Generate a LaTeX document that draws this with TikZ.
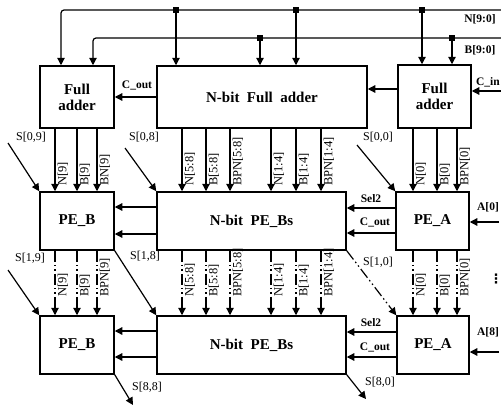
\documentclass[tikz,border=0pt]{standalone}
\usepackage{fontspec}
\setmainfont{Liberation Serif}
\newfontfamily\dvfont{DejaVu Sans}
\usetikzlibrary{arrows.meta}
\begin{document}
\begin{tikzpicture}[x=1pt,y=-1pt,
  box/.style={draw, line width=1.5pt, inner sep=0pt, align=center,
    font=\fontsize{15}{16}\selectfont\bfseries},
  wire/.style={line width=1.2pt},
  arr/.style={wire, -{Triangle[length=7.5pt,width=7.5pt]}},
  lbl/.style={font=\fontsize{12}{13}\selectfont, inner sep=1pt},
  blbl/.style={font=\fontsize{11.5}{12}\selectfont\bfseries, inner sep=1pt},
  rl/.style={font=\fontsize{12.5}{13}\selectfont, inner sep=1pt, rotate=90, anchor=north west},
  dd/.style={dash pattern=on 11pt off 3pt on 1.5pt off 3pt on 1.5pt off 3pt},
  jdot/.style={fill, rectangle, minimum size=5.5pt, inner sep=0pt}
]
\useasboundingbox (0,0) rectangle (501,407);

% boxes
\node[box, minimum width=74pt, minimum height=62pt] (lfa) at (77,97) {Full\\adder};
\node[box, minimum width=210pt, minimum height=62pt] (nfa) at (262,97) {N-bit\ \ Full\ \ adder};
\node[box, minimum width=73pt, minimum height=63pt] (rfa) at (434.5,96.5) {Full\\adder};

\node[box, minimum width=74pt, minimum height=58pt] (peb1) at (77,221) {PE\_B};
\node[box, minimum width=189pt, minimum height=58pt] (pebs1) at (251.5,221) {N-bit\ \ PE\_Bs};
\node[box, minimum width=73pt, minimum height=58pt] (pea1) at (432.5,221) {PE\_A};

\node[box, minimum width=74pt, minimum height=58pt] (peb2) at (77,345) {PE\_B};
\node[box, minimum width=189pt, minimum height=58pt] (pebs2) at (251.5,345) {N-bit\ \ PE\_Bs};
\node[box, minimum width=72pt, minimum height=58pt] (pea2) at (433,345) {PE\_A};

% buses
\coordinate (nR) at (501,10);
\coordinate (bR) at (501,38);
\draw[arr, rounded corners=3pt] (nR) -| (lfa.north -| 61,0);
\draw[arr, rounded corners=3pt] (bR) -| (lfa.north -| 93,0);
\node[jdot] (jn1) at (176,10) {};
\node[jdot] (jn2) at (296,10) {};
\node[jdot] (jn3) at (422,10) {};
\node[jdot] (jb1) at (260,38) {};
\node[jdot] (jb2) at (452,38) {};
\draw[arr] (jn1.center) -- (nfa.north -| jn1.center);
\draw[arr] (jn2.center) -- (nfa.north -| jn2.center);
\draw[arr] (jb1.center) -- (nfa.north -| jb1.center);
\draw[arr] (jn3.center) -- (rfa.north -| jn3.center);
\draw[arr] (jb2.center) -- (rfa.north -| jb2.center);
\node[blbl] (lN) at (480,19) {N[9:0]};
\node[blbl] (lB) at (480,50) {B[9:0]};

% carries top
\coordinate (cin) at (501,91);
\draw[arr] (cin) -- (rfa.east |- cin);
\node[blbl] (lcin) at (488,82) {C\_in};
\draw[arr] (rfa.west |- 0,89) -- (nfa.east |- 0,89);
\draw[arr] (nfa.west |- 0,97) -- (lfa.east |- 0,97);
\node[blbl] (lcout) at (137,85) {C\_out};

% row 1 horizontal
\draw[arr] (pebs1.west |- 0,207) -- (peb1.east |- 0,207);
\draw[arr] (pebs1.west |- 0,234) -- (peb1.east |- 0,234);
\draw[arr] (pea1.west |- 0,208) -- (pebs1.east |- 0,208);
\draw[arr] (pea1.west |- 0,233) -- (pebs1.east |- 0,233);
\node[blbl] (lsel1) at (371,199) {Sel2};
\node[blbl] (lco1) at (375,222) {C\_out};
\coordinate (a0) at (499,222);
\draw[arr] (a0) -- (pea1.east |- a0);
\node[blbl] (la0) at (488,207) {A[0]};

% row 2 horizontal
\draw[arr] (pebs2.west |- 0,331) -- (peb2.east |- 0,331);
\draw[arr] (pebs2.west |- 0,357) -- (peb2.east |- 0,357);
\draw[arr] (pea2.west |- 0,332) -- (pebs2.east |- 0,332);
\draw[arr] (pea2.west |- 0,357) -- (pebs2.east |- 0,357);
\node[blbl] (lsel2) at (371,323) {Sel2};
\node[blbl] (lco2) at (375,347) {C\_out};
\coordinate (a8) at (499,352);
\draw[arr] (a8) -- (pea2.east |- a8);
\node[blbl] (la8) at (488,332) {A[8]};

% vertical buses row 1
\foreach \x in {55,77,97} \draw[arr] (lfa.south -| \x,0) -- (peb1.north -| \x,0);
\foreach \x in {182,206,230,271,296,321} \draw[arr] (nfa.south -| \x,0) -- (pebs1.north -| \x,0);
\foreach \x in {413,437,457} \draw[arr] (rfa.south -| \x,0) -- (pea1.north -| \x,0);
\foreach \x/\t [count=\i] in {55/{N[9]},77/{B[9]},97/{BN[9]},182/{N[5:8]},206/{B[5:8]},230/{BPN[5:8]},271/{N[1:4]},296/{B[1:4]},321/{BPN[1:4]},413/{N[0]},437/{B[0]},457/{BPN[0]}}
  \node[rl] (ra\i) at (\x+1.5,187) {\t};

% vertical buses row 2
\foreach \x in {55,77,97} \draw[arr, dd] (peb1.south -| \x,0) -- (peb2.north -| \x,0);
\foreach \x in {182,206,230,271,296,321} \draw[arr, dd] (pebs1.south -| \x,0) -- (pebs2.north -| \x,0);
\foreach \x in {413,437,457} \draw[arr, dd] (pea1.south -| \x,0) -- (pea2.north -| \x,0);
\foreach \x/\t [count=\i] in {55/{N[9]},77/{B[9]},97/{BPN[9]},182/{N[5:8]},206/{B[5:8]},230/{BPN[5:8]},271/{N[1:4]},296/{B[1:4]},321/{BPN[1:4]},413/{N[0]},437/{B[0]},457/{BPN[0]}}
  \node[rl] (rb\i) at (\x+1.5,298) {\t};

% S arrows
\coordinate (s09) at (8,143);
\draw[arr] (s09) -- (peb1.north west);
\node[lbl] (ls09) at (31,137) {S[0,9]};
\coordinate (s08) at (125,148);
\draw[arr] (s08) -- (pebs1.north west);
\node[lbl] (ls08) at (144,137) {S[0,8]};
\coordinate (s00) at (357,145);
\draw[arr] (s00) -- (pea1.north west);
\node[lbl] (ls00) at (378,137) {S[0,0]};
\coordinate (s19) at (8,270);
\draw[arr] (s19) -- (peb2.north west);
\node[lbl] (ls19) at (30,258) {S[1,9]};
\draw[arr] (peb1.south east) -- (pebs2.north west);
\node[lbl] (ls18) at (145,256) {S[1,8]};
\draw[arr, dd] (pebs1.south east) -- (pea2.north west);
\node[lbl] (ls10) at (378,262) {S[1,0]};
\coordinate (s88) at (133,405);
\draw[arr] (peb2.south east) -- (s88);
\node[lbl] (ls88) at (147,387) {S[8,8]};
\coordinate (s80) at (366,399);
\draw[arr] (pebs2.south east) -- (s80);
\node[lbl] (ls80) at (380,382) {S[8,0]};

\node[font=\dvfont\fontsize{13}{14}\selectfont\bfseries, inner sep=0pt] (vd) at (496,279) {⋮};
\end{tikzpicture}
\end{document}
